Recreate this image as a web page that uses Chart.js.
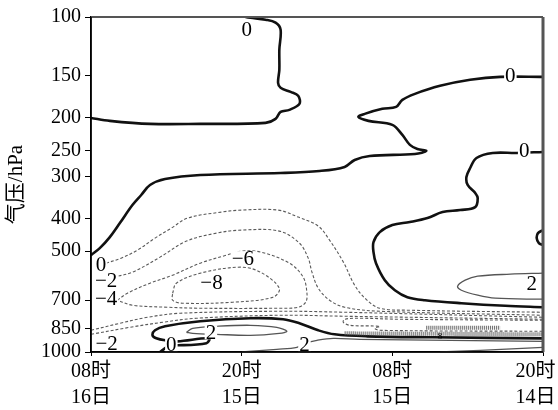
<!DOCTYPE html>
<html><head><meta charset="utf-8">
<script src="https://cdn.jsdelivr.net/npm/chart.js@4/dist/chart.umd.min.js"></script>
<style>html,body{margin:0;padding:0;background:#fff}</style>
</head><body><canvas id="c" width="558" height="410"></canvas>
<script>
// ---- axis tick data ----
const xTickHours = [0, 12, 24, 36];
const xTickTime = ['08时', '20时', '08时', '20时'];
const xTickDay = ['16日', '15日', '15日', '14日'];
const yTicks = [100, 150, 200, 250, 300, 400, 500, 700, 850, 1000];

// ---- contour lines: [hours from left, pressure hPa] ----
// 0 contours (thick)
const zeroTop = [[0,200.1],[1.5,204.2],[4.7,208.5],[8.7,208.5],[13.9,207.1],[14.7,201.4],[15.1,192.0],[15.8,189.3],[16.6,181.7],[16.5,171.9],[15.9,167.3],[15.1,162.7],[14.9,157.2],[15.0,143.8],[15.0,125.3],[15.1,109.1],[14.7,104.0],[13.9,101.9],[12.7,100.5],[12.3,100]];
const zeroMid = [[36,150.9],[32.6,150.9],[30.2,154.0],[27.8,160.5],[25.8,169.6],[24.8,176.7],[24.3,185.5],[23.2,188.0],[21.8,194.6],[21.3,198.7],[22.1,204.2],[24.0,209.9],[24.8,224.9],[25.4,240.9],[26.0,247.7],[26.7,251.1],[25.8,256.3],[22.2,259.9],[21.0,267.1],[20.2,280.3],[18.2,288.2],[15.1,292.2],[8.7,296.2],[5.9,304.5],[4.7,317.3],[4.0,339.9],[3.3,364.2],[2.3,412.2],[1.5,453.9],[0.7,489.7],[0,513.9]];
const zeroLow = [[36,252.8],[33.9,254.6],[32.0,254.6],[30.7,263.5],[30.2,282.3],[29.9,300.3],[30.0,317.3],[30.6,335.3],[30.8,347],[30.6,369.3],[29.4,377],[28.0,382.2],[26.8,398.3],[25.4,409.4],[24.0,418],[23.0,438.6],[22.5,469.9],[22.5,503.4],[22.7,543],[23.4,610.4],[24.2,654],[25.2,686.2],[26.6,700.6],[29.5,715.1],[33.0,728],[36,735]];
const zeroArc = [[36,432.6],[35.6,441.6],[35.5,457.1],[35.67,473.2],[36,479.7]];
const zeroBottom = [[5.5,1000],[6.0,968.3],[6.4,948.6],[6.9,955],[9.2,942],[9.4,910.3],[6.9,929.3],[5.9,922.9],[5.2,910.3],[4.9,891.7],[5.1,861.4],[5.9,838.1],[8.7,809.7],[12.7,793.1],[15.3,798.6],[16.6,820.9],[18.1,861.4],[19.4,885.6],[22.0,897.9],[27.2,904],[36,910.3]];
// +2 contours (thin solid)
const posLoop = [[7.6,873.4],[8.1,849.7],[10.0,838.1],[12.7,832.3],[14.8,843.9],[15.6,867.4],[15.0,879.5],[12.7,891.7],[10.0,885.6],[8.1,879.5],[7.6,873.4]];
const posLower = [[12.0,1000],[14.8,981.8],[16.4,968.3],[17.0,942],[18.0,922.9],[19.3,910.3],[21.4,916.6],[28.6,922.9],[36,929.3]];
const posRight = [[36,581.7],[33.4,585.7],[30.8,593.9],[29.8,610.4],[29.2,636.3],[29.5,654],[30.8,676.9],[32.2,691],[36,695.7]];
const posBottom = [[27.8,1000],[31.0,988.5],[36,968.3]];
// negative contours (dashed)
const negOuter = [[1.2,543],[2.4,524.6],[3.7,496.5],[5.1,457.1],[6.4,426.7],[7.7,398.3],[10.4,382.2],[12.0,377],[14.9,377],[16.5,395.6],[18.1,420.9],[19.0,463.5],[20.1,539.2],[21.0,631.9],[21.9,695.7],[23.0,740.2],[25.5,750.5],[36,760.9]];
const negSecond = [[1.8,598],[3.3,577.7],[5.5,521],[7.6,466.6],[10.0,441.6],[12.0,432.6],[15.0,435.6],[16.6,473.2],[17.3,524.6],[17.6,577.7],[18.1,645],[19.0,700.6],[20.2,735.2],[23.0,755.7],[36,776.8]];
const negThird = [[2.1,700.6],[2.9,667.6],[4.7,623.2],[6.5,589.8],[8.7,543],[10.8,513.9],[12.0,500],[13.5,503],[15.8,543],[16.9,598],[17.2,667.6],[17.1,710.2],[16.5,735.2],[15.0,740.2],[8.7,740.2],[6.1,735.2],[3.3,725.1],[2.1,700.6]];
const negCore = [[6.5,667.6],[6.8,623.2],[8.7,581.7],[11.9,558.1],[13.5,577.7],[15.0,645],[14.5,686.2],[11.3,710.2],[7.3,715.1],[6.5,700.6],[6.5,667.6]];
const negLowA = [[0,861.4],[2.3,820.9],[4.5,787.6],[7.1,766.2],[15.0,755.7],[20.2,760.9],[36,787.6]];
const negLowB = [[0,885.6],[3.1,843.9],[5.7,815.3],[8.4,793.1],[15.0,776.8],[20.2,782.2],[36,798.6]];
const negRight = [[36,804.1],[24.6,798.6],[21.4,793.1],[20.2,798.6],[20.1,815.3],[20.6,832.3],[23.0,838.1],[22.6,849.7],[23.0,861.4],[36,867.4]];
const bandMain = [[20.2,879.5],[36,885.6]];
const bandShort = [[26.7,846],[32.6,846]];

// ---- contour labels ----
const labelText = ['0','0','0','0','\u22122','\u22124','\u22126','\u22128','\u22122','0','2','2','2','8'];
const labelHour = [12.4,33.4,34.5,0.8,1.2,1.2,12.1,9.6,1.25,6.4,9.55,17.0,35.1,27.8];
const labelPres = [109.1,149.8,251.1,548,610.4,691,524.6,619,940,948.6,873.4,948.6,623.2,891.7];
const labelSize = [21,21,21,21,21,21,21,21,21,21,21,21,21,9];

const SERIF = "'Liberation Serif','Noto Sans CJK SC',serif";
const toPts = a => a.map(p => ({x: p[0], y: p[1]}));
const thick = {borderColor:'#111', borderWidth:2.6};
const thin = {borderColor:'#555', borderWidth:1.3};
const dashed = {borderColor:'#5a5a5a', borderWidth:1.1, borderDash:[3,2]};
const hatch = {borderColor:'#666', borderWidth:4, borderDash:[1,1]};
const series = [
  [zeroTop, thick],[zeroMid, thick],[zeroLow, thick],[zeroArc, thick],
  [posLoop, thin],[posLower, thin],[posRight, thin],[posBottom, thin],
  [negOuter, dashed],[negSecond, dashed],[negThird, dashed],[negCore, dashed],
  [negLowA, dashed],[negLowB, dashed],[negRight, dashed],
  [bandMain, hatch],[bandShort, hatch],[zeroBottom, thick]
];
const datasets = series.map(([d, st]) => Object.assign({
  data: toPts(d), showLine: true, pointRadius: 0, tension: 0.35, fill: false
}, st));

const labelPlugin = {
  id: 'contourLabels',
  afterDatasetsDraw(chart) {
    const {ctx, scales: {x, y}} = chart;
    ctx.save();
    for (let i = 0; i < labelText.length; i++) {
      const px = x.getPixelForValue(labelHour[i]);
      const py = y.getPixelForValue(labelPres[i]);
      ctx.font = labelSize[i] + 'px ' + SERIF;
      const w = ctx.measureText(labelText[i]).width;
      if (labelSize[i] > 12) {
        ctx.fillStyle = '#fff';
        ctx.fillRect(px - w / 2 - 1, py - 7, w + 2, 14);
      }
      ctx.fillStyle = '#000';
      ctx.textAlign = 'center';
      ctx.textBaseline = 'middle';
      ctx.fillText(labelText[i], px, py + 1);
    }
    ctx.restore();
  }
};
const framePlugin = {
  id: 'frame',
  afterDraw(chart) {
    const a = chart.chartArea, ctx = chart.ctx;
    ctx.save();
    ctx.strokeStyle = '#555';
    ctx.lineWidth = 2;
    ctx.beginPath();
    ctx.moveTo(a.left, a.top); ctx.lineTo(a.right, a.top);
    ctx.stroke();
    ctx.lineWidth = 3;
    ctx.beginPath();
    ctx.moveTo(a.right, a.top); ctx.lineTo(a.right, a.bottom);
    ctx.stroke();
    ctx.strokeStyle = '#000';
    ctx.lineWidth = 1.5;
    ctx.beginPath();
    ctx.moveTo(a.left, a.top); ctx.lineTo(a.left, a.bottom); ctx.lineTo(a.right, a.bottom);
    ctx.stroke();
    ctx.restore();
  }
};

const last = xTickHours.length - 1;
new Chart(document.getElementById('c'), {
  type: 'scatter',
  data: {datasets},
  options: {
    responsive: false,
    animation: false,
    layout: {padding: {left: 0, right: 15, top: 17, bottom: 0}},
    plugins: {legend: {display: false}, tooltip: {enabled: false}},
    scales: {
      x: {
        type: 'linear', min: 0, max: 36,
        afterBuildTicks: s => { s.ticks = xTickHours.map(v => ({value: v})); },
        afterFit: s => { s.height = 58; s.paddingLeft = 0; s.paddingRight = 0; },
        ticks: {
          autoSkip: false, maxRotation: 0, minRotation: 0, color: '#000', padding: 3,
          font: {family: SERIF, size: 20, lineHeight: 1.3},
          callback: v => {
            const i = xTickHours.indexOf(v);
            if (i < 0) return '';
            const pad = i === last ? '\u2002 ' : '';
            return [xTickTime[i] + pad, xTickDay[i] + pad];
          }
        },
        grid: {drawOnChartArea: false, drawTicks: true, tickLength: 4, color: '#000'},
        border: {display: true, color: '#000', width: 1.5}
      },
      y: {
        type: 'logarithmic', reverse: true, min: 100, max: 1000,
        afterBuildTicks: s => { s.ticks = yTicks.map(v => ({value: v})); },
        afterFit: s => { s.width = 91; s.paddingTop = 0; s.paddingBottom = 0; },
        ticks: {
          autoSkip: false, color: '#000', padding: 4,
          font: {family: SERIF, size: 20},
          callback: v => String(v)
        },
        grid: {drawOnChartArea: false, drawTicks: true, tickLength: 6, color: '#000'},
        border: {display: true, color: '#000', width: 1.5},
        title: {display: true, text: '气压/hPa', color: '#000', font: {family: SERIF, size: 21}, padding: {top: 4, bottom: 0}}
      }
    }
  },
  plugins: [labelPlugin, framePlugin]
});
</script></body></html>
